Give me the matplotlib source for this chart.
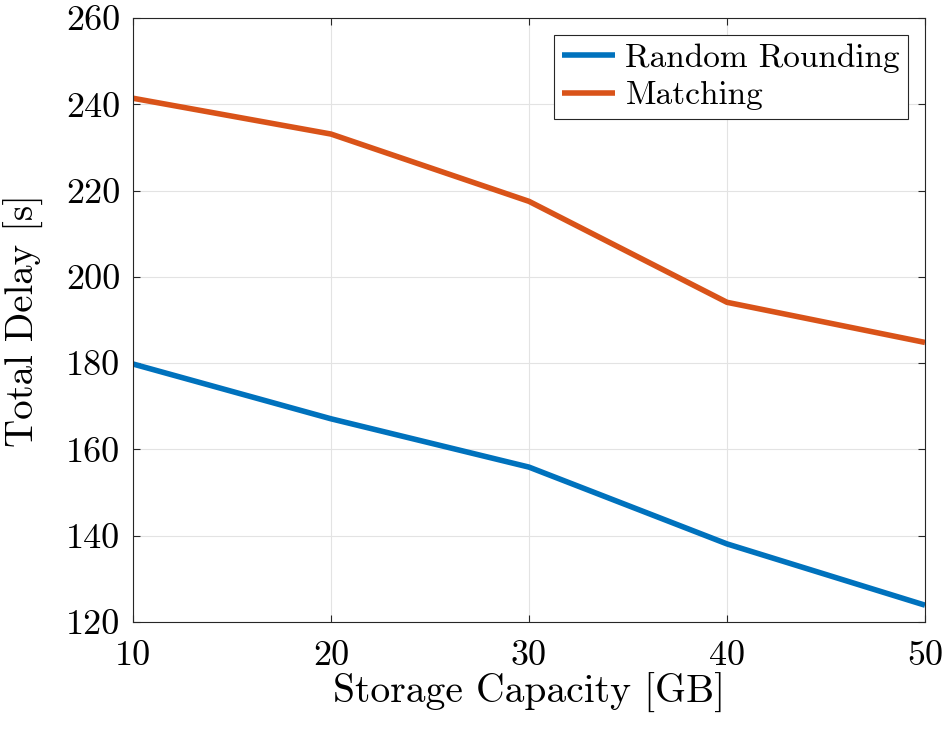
import matplotlib
matplotlib.use("Agg")
import matplotlib.pyplot as plt

capacity = [10, 20, 30, 40, 50]
random_rounding = [179.8, 167.1, 155.9, 138.1, 123.9]
matching = [241.4, 233.1, 217.5, 194.1, 184.8]
xticks = [10, 20, 30, 40, 50]
yticks = [120, 140, 160, 180, 200, 220, 240, 260]

plt.rcParams['font.family'] = ['cmr10', 'DejaVu Serif']
plt.rcParams['mathtext.fontset'] = 'cm'
plt.rcParams['axes.formatter.use_mathtext'] = True
plt.rcParams['axes.unicode_minus'] = False

fig = plt.figure(figsize=(9.44, 7.32), dpi=100)
ax = fig.add_axes([133/944, 1-622/732, (925-133)/944, (622-18)/732])

ax.plot(capacity, random_rounding, color='#0072BD', lw=4, label='Random Rounding', solid_capstyle='butt')
ax.plot(capacity, matching, color='#D95319', lw=4, label='Matching', solid_capstyle='butt')

ax.set_xlim(10, 50)
ax.set_ylim(120, 260)
ax.set_xticks(xticks)
ax.set_yticks(yticks)
ax.set_xticklabels([str(v) for v in xticks])
ax.set_yticklabels([str(v) for v in yticks])
ax.tick_params(direction='in', length=5, width=0.8, colors='#262626', labelsize=26,
               top=True, right=True, labelcolor='black')
ax.tick_params(axis='x', pad=13.5)
ax.tick_params(axis='y', pad=9)
ax.grid(True, color='#e3e3e3', lw=0.8)
ax.set_axisbelow(True)
for s in ax.spines.values():
    s.set_color('#262626')
    s.set_linewidth(0.8)

ax.set_xlabel('Storage Capacity [GB]', fontsize=28.5, labelpad=0.5)
ax.set_ylabel('Total Delay [s]', fontsize=28, labelpad=16)

leg = ax.legend(loc='upper right', fontsize=24, fancybox=False, framealpha=1,
                edgecolor='#262626', handlelength=1.6, handletextpad=0.3,
                borderaxespad=0.5, borderpad=0.25, labelspacing=0.25)
leg.get_frame().set_linewidth(0.8)

fig.savefig('out.png', dpi=100)
